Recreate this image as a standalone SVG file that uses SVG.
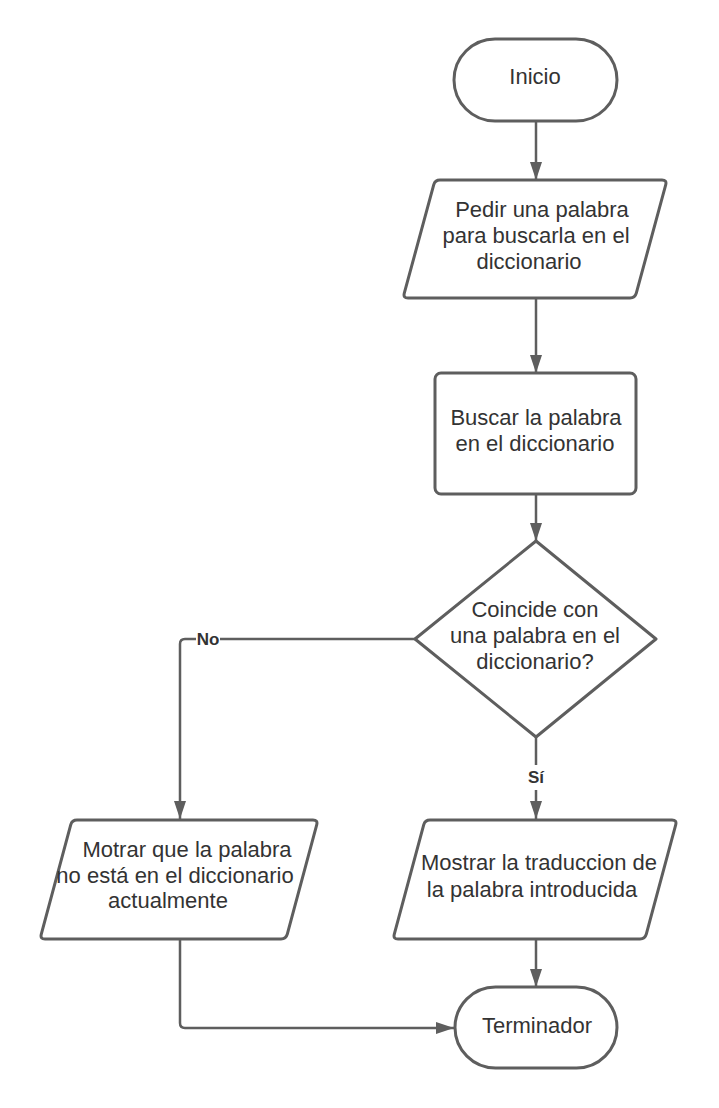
<svg xmlns="http://www.w3.org/2000/svg" width="719" height="1108" viewBox="0 0 719 1108">
<style>
.shape{fill:#ffffff;stroke:#5e5e5e;stroke-width:3;stroke-linejoin:round}
.conn{fill:none;stroke:#5e5e5e;stroke-width:2.5}
.t{font-family:"Liberation Sans",Arial,sans-serif;font-size:22px;fill:#333333;text-anchor:middle}
.lbl{font-family:"Liberation Sans",Arial,sans-serif;font-size:17px;font-weight:bold;fill:#333333;text-anchor:middle}
</style>
<defs>
<marker id="arr" markerUnits="userSpaceOnUse" markerWidth="18" markerHeight="12" refX="18" refY="6" orient="auto">
<path d="M0,0 L18,6 L0,12 Z" fill="#5e5e5e"/>
</marker>
</defs>
<rect width="719" height="1108" fill="#ffffff"/>
<g id="connectors">
<path class="conn" d="M536,121 L536,180" marker-end="url(#arr)"/>
<path class="conn" d="M536,298 L536,373" marker-end="url(#arr)"/>
<path class="conn" d="M536,494 L536,541" marker-end="url(#arr)"/>
<path class="conn" d="M415,639 L185,639 Q180,639 180,644 L180,819" marker-end="url(#arr)"/>
<path class="conn" d="M536,737 L536,819" marker-end="url(#arr)"/>
<path class="conn" d="M180,939 L180,1023 Q180,1028 185,1028 L454,1028" marker-end="url(#arr)"/>
<path class="conn" d="M536,939 L536,987" marker-end="url(#arr)"/>
<rect x="196" y="630" width="24" height="18" fill="#ffffff"/>
<text class="lbl" x="208" y="645">No</text>
<rect x="526" y="765" width="20" height="25" fill="#ffffff"/>
<text class="lbl" x="536" y="783">Sí</text>
</g>
<g id="inicio">
<rect class="shape" x="454" y="39" width="163" height="82" rx="41" ry="41"/>
<text class="t" x="535" y="84">Inicio</text>
</g>
<g id="pedir">
<path class="shape" d="M440,180 L662,180 Q667,180 665.7,184.8 L636.3,293.2 Q635,298 630,298 L408,298 Q403,298 404.3,293.2 L433.7,184.8 Q435,180 440,180 Z"/>
<text class="t" x="542" y="217">Pedir una palabra</text>
<text class="t" x="536" y="243">para buscarla en el</text>
<text class="t" x="529" y="269">diccionario</text>
</g>
<g id="buscar">
<rect class="shape" x="435" y="373" width="201" height="121" rx="6" ry="6"/>
<text class="t" x="536" y="425">Buscar la palabra</text>
<text class="t" x="535" y="451">en el diccionario</text>
</g>
<g id="coincide">
<path class="shape" d="M536,541 L656,639 L536,737 L415,639 Z"/>
<text class="t" x="535" y="617">Coincide con</text>
<text class="t" x="535" y="643">una palabra en el</text>
<text class="t" x="535" y="669">diccionario?</text>
</g>
<g id="motrar">
<path class="shape" d="M77,820 L313,820 Q318,820 316.7,824.8 L287.3,934.2 Q286,939 281,939 L45,939 Q40,939 41.3,934.2 L70.7,824.8 Q72,820 77,820 Z"/>
<text class="t" x="187" y="857">Motrar que la palabra</text>
<text class="t" x="175" y="883">no está en el diccionario</text>
<text class="t" x="168" y="908">actualmente</text>
</g>
<g id="mostrar">
<path class="shape" d="M430,820 L672,820 Q677,820 675.7,824.8 L646.3,934.2 Q645,939 640,939 L398,939 Q393,939 394.3,934.2 L423.7,824.8 Q425,820 430,820 Z"/>
<text class="t" x="539" y="870">Mostrar la traduccion de</text>
<text class="t" x="532" y="897">la palabra introducida</text>
</g>
<g id="terminador">
<rect class="shape" x="455" y="987" width="162" height="81" rx="40.5" ry="40.5"/>
<text class="t" x="537" y="1033">Terminador</text>
</g>
</svg>
